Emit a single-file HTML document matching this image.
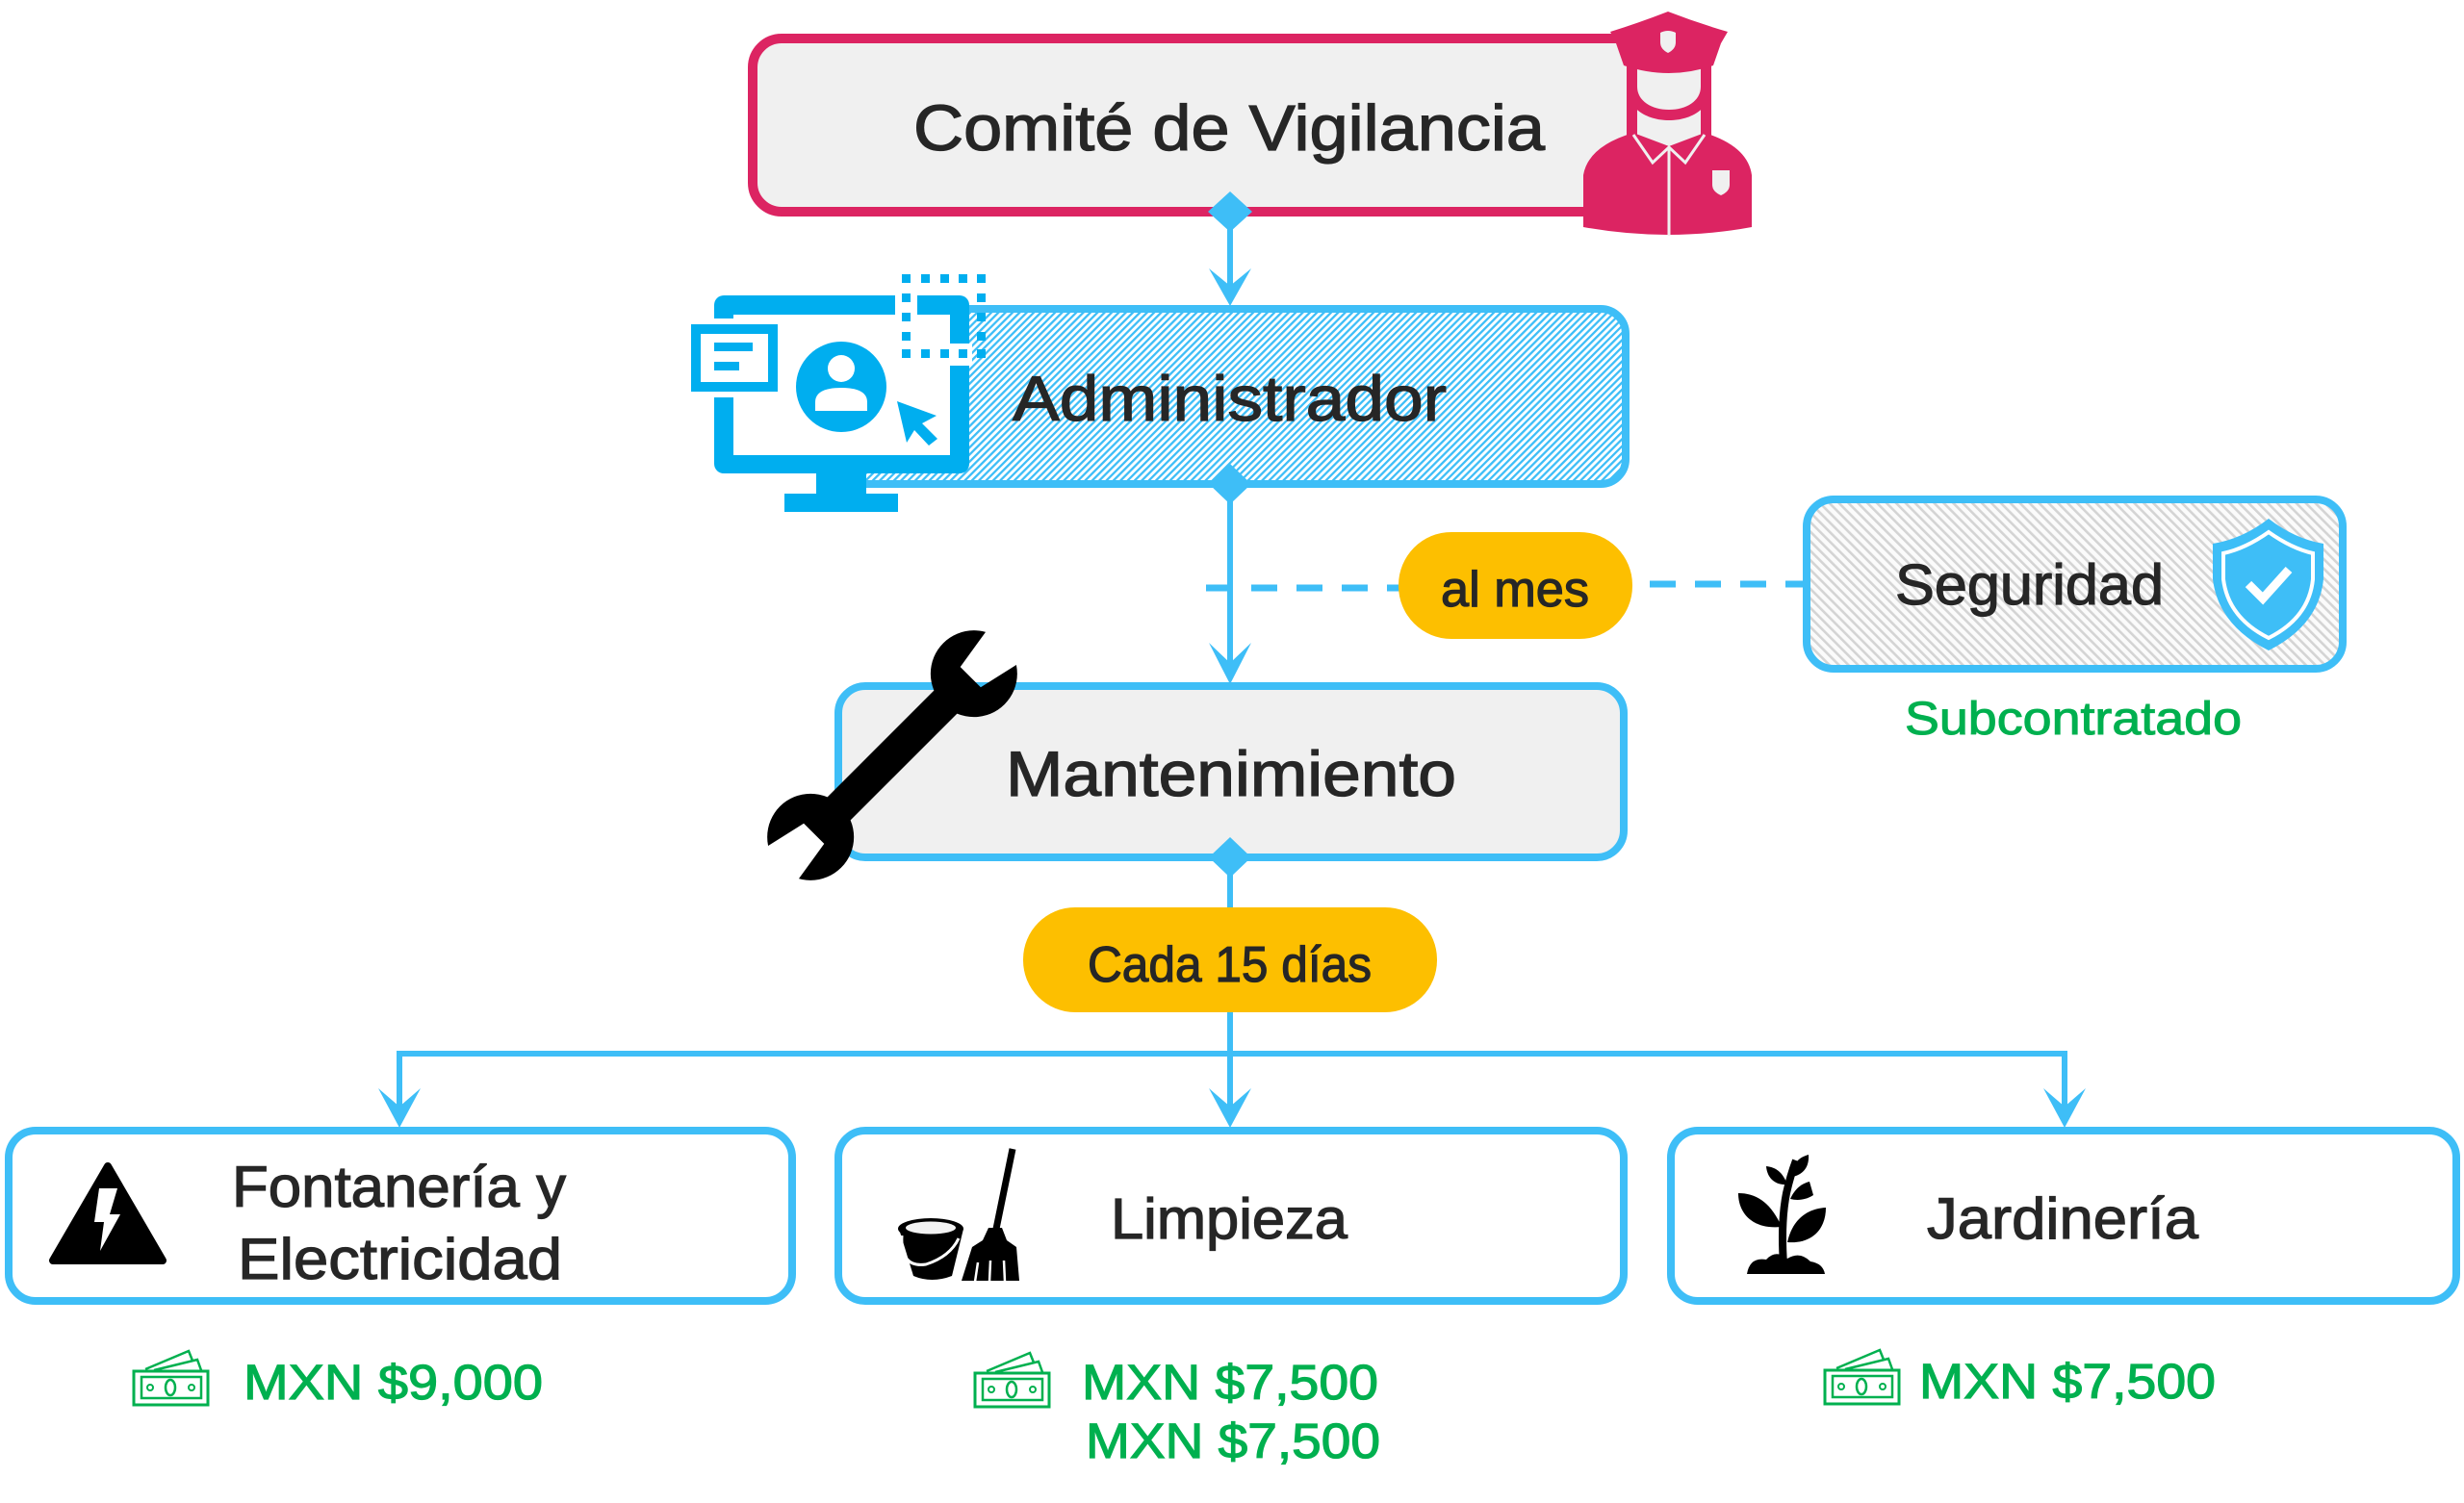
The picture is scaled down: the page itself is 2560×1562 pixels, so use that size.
<!DOCTYPE html>
<html><head><meta charset="utf-8"><style>
html,body{margin:0;padding:0;background:#fff;}
svg{display:block;}
text{font-family:"Liberation Sans","DejaVu Sans",sans-serif;}
</style></head><body>
<svg width="2560" height="1562" viewBox="0 0 2560 1562" xmlns="http://www.w3.org/2000/svg">
<defs>
<pattern id="hb" width="5.2" height="10" patternUnits="userSpaceOnUse" patternTransform="rotate(45)"><rect width="5.2" height="10" fill="#ffffff"/><rect width="2.3" height="10" fill="#3ebef7"/></pattern>
<pattern id="hg" width="7" height="10" patternUnits="userSpaceOnUse" patternTransform="rotate(-45)"><rect width="7" height="10" fill="#fbfbfb"/><rect width="2.6" height="10" fill="#d4d4d4"/></pattern>
<mask id="wm" maskUnits="userSpaceOnUse" x="-220" y="-120" width="440" height="240">
<rect x="-220" y="-120" width="440" height="240" fill="#fff"/>
<polygon points="115,-15 115,15 172,28 172,-24" fill="#000"/>
<polygon points="-115,15 -115,-15 -172,-28 -172,24" fill="#000"/>
</mask>
<g id="money">
<rect x="1" y="22" width="77" height="35" fill="none" stroke="#00b04f" stroke-width="3"/>
<rect x="9" y="28" width="62" height="22" fill="none" stroke="#00b04f" stroke-width="2.5"/>
<ellipse cx="39" cy="39" rx="5" ry="8" fill="none" stroke="#00b04f" stroke-width="2.5"/>
<circle cx="18" cy="39" r="3" fill="none" stroke="#00b04f" stroke-width="2"/>
<circle cx="61" cy="39" r="3" fill="none" stroke="#00b04f" stroke-width="2"/>
<polyline points="13,20 58,1 62,11" fill="none" stroke="#00b04f" stroke-width="2.5"/>
<polyline points="22,21 67,10 71,21" fill="none" stroke="#00b04f" stroke-width="2.5"/>
</g>
</defs>

<!-- ===== Connectors ===== -->
<g stroke="#3ebef7" stroke-width="6" fill="none">
<line x1="1278" y1="225" x2="1278" y2="300"/>
<line x1="1278" y1="503" x2="1278" y2="695"/>
<line x1="1278" y1="891" x2="1278" y2="945"/>
<line x1="1278" y1="1050" x2="1278" y2="1155"/>
<line x1="415" y1="1095" x2="2145" y2="1095"/>
<line x1="415" y1="1092" x2="415" y2="1155"/>
<line x1="2145" y1="1092" x2="2145" y2="1155"/>
</g>
<g stroke="#3ebef7" stroke-width="7" fill="none" stroke-dasharray="27 20">
<line x1="1253" y1="611" x2="1455" y2="611"/>
<line x1="1714" y1="607" x2="1876" y2="607"/>
</g>
<g fill="#3ebef7">
<polygon points="1256,279 1278,318 1300,279 1278,297"/>
<polygon points="1256,668 1278,711 1300,668 1278,689"/>
<polygon points="393,1131 415,1172 437,1131 415,1150"/>
<polygon points="1256,1131 1278,1172 1300,1131 1278,1150"/>
<polygon points="2123,1131 2145,1172 2167,1131 2145,1150"/>
</g>

<!-- ===== Comité de Vigilancia ===== -->
<rect x="782" y="40" width="975" height="180" rx="30" fill="#f0f0f0" stroke="#dc2462" stroke-width="10"/>
<text x="949" y="156" font-size="67" fill="#262626" stroke="#262626" stroke-width="1.3" textLength="656" lengthAdjust="spacingAndGlyphs">Comité de Vigilancia</text>
<!-- police icon -->
<g>
<rect x="1698" y="100" width="74" height="50" fill="#f0f0f0"/>
<rect x="1690" y="85" width="11" height="62" fill="#dc2462"/>
<rect x="1767" y="85" width="11" height="62" fill="#dc2462"/>
<path d="M1645,236 L1645,182 Q1650,152 1697,138 L1734,152 L1771,138 Q1816,152 1820,182 L1820,236 Q1733,252 1645,236 Z" fill="#dc2462"/>
<polyline points="1697,140 1717,169 1734,153 1751,169 1771,140" fill="none" stroke="#f0f0f0" stroke-width="3"/>
<line x1="1734" y1="153" x2="1734" y2="245" stroke="#f0f0f0" stroke-width="3"/>
<path d="M1779,177 L1797,177 L1797,192 Q1797,199 1788,203 Q1779,199 1779,192 Z" fill="#f0f0f0"/>
<path d="M1690,60 L1690,90 C1690,112 1710,125 1734,125 C1758,125 1778,112 1778,90 L1778,60 Z" fill="#dc2462"/>
<path d="M1701,68 L1701,90 C1701,105 1716,114 1734,114 C1752,114 1767,105 1767,90 L1767,68 Z" fill="#f0f0f0"/>
<path d="M1673,33 Q1702,24 1733,12 Q1764,24 1795,33 L1788,45 L1780,68 Q1734,84 1687,68 L1679,45 Z" fill="#dc2462"/>
<path d="M1725,34 Q1733,30 1741,34 L1741,44 Q1741,51 1733,55 Q1725,51 1725,44 Z" fill="#f0f0f0"/>
</g>
<polygon points="1278,199 1301,220 1278,241 1255,220" fill="#3ebef7"/>

<!-- ===== Administrador ===== -->
<rect x="870" y="321" width="819" height="182" rx="26" fill="url(#hb)" stroke="#3ebef7" stroke-width="8"/>
<text x="1052" y="437" font-size="66" fill="#262626" stroke="#262626" stroke-width="1.3" textLength="451" lengthAdjust="spacingAndGlyphs">Administrador</text>
<polygon points="1278,482 1300,503 1278,524 1256,503" fill="#3ebef7"/>
<!-- monitor icon -->
<g>
<rect x="742" y="307" width="265" height="185" rx="10" fill="#00aeef"/>
<rect x="762" y="327" width="225" height="146" fill="#ffffff"/>
<rect x="848" y="490" width="52" height="25" fill="#00aeef"/>
<rect x="815" y="513" width="118" height="19" fill="#00aeef"/>
<rect x="930" y="300" width="23" height="30" fill="#ffffff"/>
<rect x="980" y="357" width="30" height="23" fill="#ffffff"/>
<rect x="712" y="331" width="102" height="82" fill="#ffffff"/>
<rect x="718" y="337" width="90" height="70" fill="#00aeef"/>
<rect x="728" y="347" width="70" height="50" fill="#ffffff"/>
<rect x="742" y="356" width="40" height="9" fill="#00aeef"/>
<rect x="742" y="376" width="26" height="9" fill="#00aeef"/>
<circle cx="874" cy="402" r="47" fill="#00aeef"/>
<circle cx="874" cy="383" r="14" fill="#ffffff"/>
<path d="M847,427 L847,418 Q847,403 874,403 Q901,403 901,418 L901,427 Z" fill="#ffffff"/>
<path d="M932,417 L973,432 L958,440 L974,456 L965,463 L950,447 L942,460 Z" fill="#00aeef"/>
<g fill="#00aeef">
<rect x="937" y="285" width="9" height="9"/><rect x="957" y="285" width="9" height="9"/><rect x="977" y="285" width="9" height="9"/><rect x="996" y="285" width="9" height="9"/><rect x="1015" y="285" width="9" height="9"/>
<rect x="937" y="305" width="9" height="9"/><rect x="937" y="325" width="9" height="9"/><rect x="937" y="345" width="9" height="9"/><rect x="937" y="363" width="9" height="9"/>
<rect x="1015" y="305" width="9" height="9"/><rect x="1015" y="325" width="9" height="9"/><rect x="1015" y="345" width="9" height="9"/><rect x="1015" y="363" width="9" height="9"/>
<rect x="957" y="363" width="9" height="9"/><rect x="977" y="363" width="9" height="9"/><rect x="996" y="363" width="9" height="9"/>
</g>
</g>

<!-- ===== al mes ===== -->
<rect x="1453" y="553" width="243" height="111" rx="55" fill="#fdbf00"/>
<text x="1497" y="630" font-size="52" fill="#262626" stroke="#262626" stroke-width="1.2" textLength="154" lengthAdjust="spacingAndGlyphs">al mes</text>

<!-- ===== Seguridad ===== -->
<rect x="1877" y="519" width="557" height="176" rx="28" fill="url(#hg)" stroke="#3ebef7" stroke-width="8"/>
<text x="1969" y="628" font-size="59" fill="#262626" stroke="#262626" stroke-width="1.2" textLength="279" lengthAdjust="spacingAndGlyphs">Seguridad</text>
<path d="M2357,539 Q2330,560 2299,565 L2299,602 Q2305,650 2357,676 Q2409,650 2414,602 L2414,565 Q2384,560 2357,539 Z" fill="#3ebef7"/>
<path d="M2357,553 Q2333,570 2310,575 L2310,602 Q2315,642 2357,663 Q2399,642 2403,602 L2403,575 Q2381,570 2357,553 Z" fill="none" stroke="#ffffff" stroke-width="4"/>
<polyline points="2336,607 2351,622 2378,592" fill="none" stroke="#ffffff" stroke-width="9"/>
<text x="1979" y="763" font-size="48" fill="#00b04f" stroke="#00b04f" stroke-width="1" textLength="350" lengthAdjust="spacingAndGlyphs">Subcontratado</text>

<!-- ===== Mantenimiento ===== -->
<rect x="871" y="713" width="816" height="178" rx="28" fill="#f0f0f0" stroke="#3ebef7" stroke-width="8"/>
<text x="1045" y="827" font-size="66" fill="#262626" stroke="#262626" stroke-width="1.3" textLength="468" lengthAdjust="spacingAndGlyphs">Mantenimiento</text>
<polygon points="1278,870 1300,891 1278,912 1256,891" fill="#3ebef7"/>
<!-- wrench -->
<g transform="translate(927,785) rotate(-45)">
<g mask="url(#wm)" fill="#000">
<rect x="-120" y="-17" width="240" height="34"/>
<circle cx="120" cy="0" r="45"/>
<circle cx="-120" cy="0" r="45"/>
</g>
</g>

<!-- ===== Cada 15 días ===== -->
<rect x="1063" y="943" width="430" height="109" rx="54" fill="#fdbf00"/>
<text x="1130" y="1020" font-size="52" fill="#262626" stroke="#262626" stroke-width="1.2" textLength="295" lengthAdjust="spacingAndGlyphs">Cada 15 días</text>

<!-- ===== Bottom boxes ===== -->
<rect x="9" y="1175" width="814" height="177" rx="28" fill="#ffffff" stroke="#3ebef7" stroke-width="8"/>
<rect x="871" y="1175" width="816" height="177" rx="28" fill="#ffffff" stroke="#3ebef7" stroke-width="8"/>
<rect x="1736" y="1175" width="816" height="177" rx="28" fill="#ffffff" stroke="#3ebef7" stroke-width="8"/>

<text x="241" y="1254" font-size="60" fill="#262626" stroke="#262626" stroke-width="1.2" textLength="347" lengthAdjust="spacingAndGlyphs">Fontanería y</text>
<text x="247" y="1329" font-size="60" fill="#262626" stroke="#262626" stroke-width="1.2" textLength="337" lengthAdjust="spacingAndGlyphs">Electricidad</text>
<text x="1154" y="1287" font-size="59" fill="#262626" stroke="#262626" stroke-width="1.2" textLength="246" lengthAdjust="spacingAndGlyphs">Limpieza</text>
<text x="2002" y="1287" font-size="60" fill="#262626" stroke="#262626" stroke-width="1.2" textLength="282" lengthAdjust="spacingAndGlyphs">Jardinería</text>

<!-- warning triangle -->
<polygon points="112,1212 55,1310 169,1310" fill="#000" stroke="#000" stroke-width="8" stroke-linejoin="round"/>
<polygon points="103,1235 122,1235 114,1262 125,1262 104,1300 108,1270 98,1270" fill="#ffffff"/>

<!-- bucket & broom -->
<g>
<line x1="1052" y1="1194" x2="1034" y2="1282" stroke="#000" stroke-width="7"/>
<path d="M1027,1276 L1041,1276 L1046,1289 L1056,1296 L1059,1331 L999,1331 L1010,1296 L1021,1289 Z" fill="#000"/>
<line x1="1016" y1="1312" x2="1013" y2="1332" stroke="#fff" stroke-width="2.5"/>
<line x1="1029" y1="1310" x2="1028" y2="1332" stroke="#fff" stroke-width="2.5"/>
<line x1="1043" y1="1310" x2="1044" y2="1332" stroke="#fff" stroke-width="2.5"/>
<path d="M934,1277 L949,1326 Q968,1334 989,1326 L1001,1277 Z" fill="#000"/>
<ellipse cx="967" cy="1277" rx="34" ry="11" fill="#000"/>
<ellipse cx="967" cy="1276" rx="26" ry="6.5" fill="#f2f2f2"/>
<path d="M937,1284 Q935,1318 962,1314 Q987,1306 996,1287" fill="none" stroke="#fff" stroke-width="3"/>
</g>

<!-- plant -->
<g fill="#000">
<path d="M1815,1324 Q1818,1306 1835,1309 Q1845,1298 1857,1308 Q1870,1300 1881,1311 Q1894,1313 1896,1324 Z"/>
<path d="M1851,1275 C1840,1250 1825,1240 1806,1240 C1806,1262 1822,1278 1851,1275 Z"/>
<path d="M1857,1291 C1862,1268 1877,1256 1897,1255 C1897,1278 1882,1293 1857,1291 Z"/>
<path d="M1857,1231 C1852,1218 1845,1213 1835,1212 C1836,1225 1845,1232 1857,1231 Z"/>
<path d="M1862,1223 C1862,1210 1868,1203 1879,1200 C1880,1213 1873,1221 1862,1223 Z"/>
<path d="M1860,1246 C1865,1235 1872,1230 1880,1228 L1884,1242 C1876,1247 1868,1248 1860,1246 Z"/>
</g>
<path d="M1853,1314 Q1850,1270 1856,1240 Q1860,1222 1866,1206" fill="none" stroke="#000" stroke-width="8"/>

<!-- ===== Costs ===== -->
<use href="#money" x="138" y="1403"/>
<use href="#money" x="1012" y="1405"/>
<use href="#money" x="1895" y="1402"/>
<text x="253" y="1454" font-size="51" fill="#00b04f" stroke="#00b04f" stroke-width="1.2" textLength="311" lengthAdjust="spacingAndGlyphs">MXN $9,000</text>
<text x="1124" y="1454" font-size="51" fill="#00b04f" stroke="#00b04f" stroke-width="1.2" textLength="308" lengthAdjust="spacingAndGlyphs">MXN $7,500</text>
<text x="1128" y="1515" font-size="51" fill="#00b04f" stroke="#00b04f" stroke-width="1.2" textLength="306" lengthAdjust="spacingAndGlyphs">MXN $7,500</text>
<text x="1994" y="1453" font-size="51" fill="#00b04f" stroke="#00b04f" stroke-width="1.2" textLength="308" lengthAdjust="spacingAndGlyphs">MXN $7,500</text>
</svg>
</body></html>
